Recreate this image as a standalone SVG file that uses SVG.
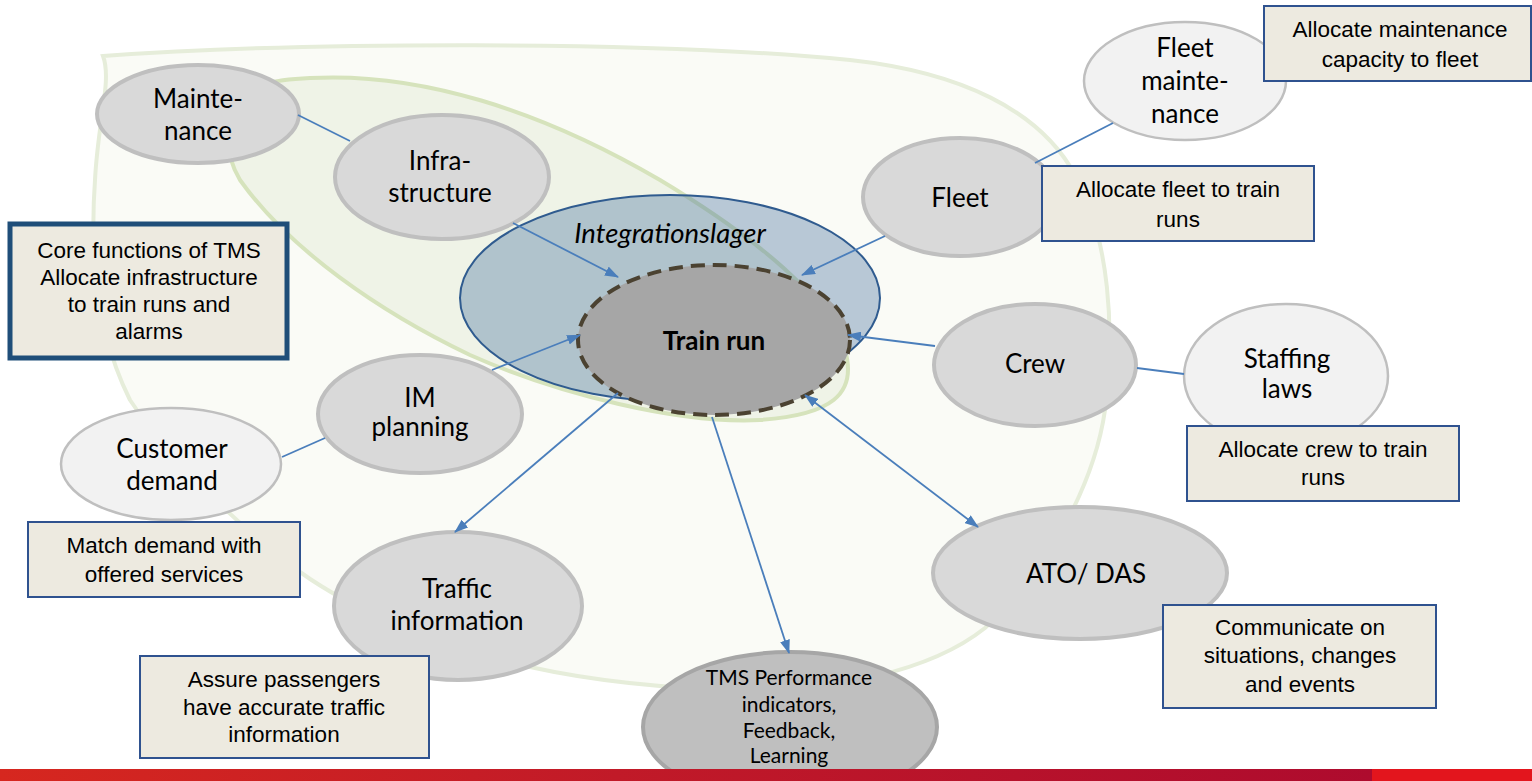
<svg xmlns="http://www.w3.org/2000/svg" width="1532" height="781" viewBox="0 0 1532 781">
<defs>
<style>
.node{font-family:Lato,"Noto Sans",sans-serif;font-size:26px;fill:#000;text-anchor:middle}
.small{font-size:21px}
.box{fill:#edeae0;stroke:#2f528f;stroke-width:2}
.bt{font-family:"Liberation Sans",Arial,sans-serif;font-size:22.5px;fill:#000;text-anchor:middle}
.core{font-size:22.5px}
.gray{fill:#d9d9d9;stroke:#bfbfbf;stroke-width:4}
.light{fill:#f2f2f2;stroke:#bfbfbf;stroke-width:2.5}
.con{stroke:#4a7ebb;stroke-width:1.8;fill:none}
.arr{marker-end:url(#ah)}
</style>
<marker id="ah" viewBox="0 0 14 10" refX="13" refY="5" markerWidth="14" markerHeight="10" markerUnits="userSpaceOnUse" orient="auto-start-reverse">
<path d="M0,0 L14,5 L0,10 z" fill="#4a7ebb"/>
</marker>
<linearGradient id="bar" x1="0" y1="0" x2="1" y2="0">
<stop offset="0" stop-color="#d6271f"/>
<stop offset="0.45" stop-color="#c11a28"/>
<stop offset="1" stop-color="#ae0b2e"/>
</linearGradient>
</defs>
<rect width="1532" height="781" fill="#ffffff"/>
<g id="regions">
<path d="M103,56 C300,42 650,40 850,60 C960,72 1040,110 1075,175 C1110,240 1115,330 1105,410 C1095,480 1050,570 985,628 C930,672 830,692 740,690 C650,688 580,678 530,667 C440,645 360,615 300,572 C240,528 170,460 130,400 C95,330 90,250 95,180 C98,120 112,80 103,56 Z" fill="#fafbf6" stroke="#e6edda" stroke-width="4"/>
<path d="M240,100 C250,85 270,80 310,78 C420,72 540,110 660,180 C760,240 830,300 845,350 C858,395 830,415 760,420 C680,424 560,395 470,355 C380,312 290,250 240,180 C222,150 225,115 240,100 Z" fill="#eff3e7" stroke="#d6e3bc" stroke-width="4"/>
</g>
<g id="integrationslager">
<ellipse cx="670" cy="298" rx="210" ry="103" fill="#3d6a9a" fill-opacity="0.35" stroke="#2f5b8f" stroke-width="2"/>
<text x="670" y="243" class="node" style="font-style:italic;font-size:27.5px">Integrationslager</text>
</g>
<g id="train-run">
<ellipse cx="714" cy="340" rx="136" ry="75" fill="#a6a6a6" stroke="#4b4231" stroke-width="4" stroke-dasharray="14 8"/>
<text x="714" y="350" class="node" style="font-size:26px;font-weight:bold">Train run</text>
</g>
<g id="maintenance">
<ellipse cx="198" cy="114" rx="101" ry="49" class="gray"/>
<text x="198" y="108" class="node">Mainte-</text>
<text x="198" y="140" class="node">nance</text>
</g>
<g id="infrastructure">
<ellipse cx="442" cy="177" rx="107" ry="62" class="gray"/>
<text x="440" y="170" class="node">Infra-</text>
<text x="440" y="202" class="node">structure</text>
</g>
<g id="fleet-maintenance">
<ellipse cx="1185" cy="81" rx="101" ry="59" class="light"/>
<text x="1185" y="57" class="node">Fleet</text>
<text x="1185" y="90" class="node">mainte-</text>
<text x="1185" y="123" class="node">nance</text>
</g>
<g id="fleet">
<ellipse cx="960" cy="197" rx="97" ry="59" class="gray"/>
<text x="960" y="207" class="node">Fleet</text>
</g>
<g id="crew">
<ellipse cx="1035" cy="365" rx="101" ry="61" class="gray"/>
<text x="1035" y="373" class="node">Crew</text>
</g>
<g id="staffing-laws">
<ellipse cx="1286" cy="376" rx="102" ry="72" class="light"/>
<text x="1287" y="368" class="node">Staffing</text>
<text x="1287" y="398" class="node">laws</text>
</g>
<g id="im-planning">
<ellipse cx="420" cy="414" rx="102" ry="59" class="gray"/>
<text x="420" y="407" class="node">IM</text>
<text x="420" y="436" class="node">planning</text>
</g>
<g id="customer-demand">
<ellipse cx="171" cy="464" rx="110" ry="56" class="light"/>
<text x="172" y="458" class="node">Customer</text>
<text x="172" y="490" class="node">demand</text>
</g>
<g id="traffic-information">
<ellipse cx="458" cy="606" rx="124" ry="74" class="gray"/>
<text x="457" y="598" class="node">Traffic</text>
<text x="457" y="630" class="node">information</text>
</g>
<g id="ato-das">
<ellipse cx="1080" cy="573" rx="147" ry="66" class="gray"/>
<text x="1086" y="583" class="node">ATO/ DAS</text>
</g>
<g id="tms-performance">
<ellipse cx="790" cy="727" rx="147" ry="75" fill="#bfbfbf" stroke="#a6a6a6" stroke-width="4"/>
<text x="789" y="685" class="node small">TMS Performance</text>
<text x="789" y="712" class="node small">indicators,</text>
<text x="789" y="738" class="node small">Feedback,</text>
<text x="789" y="763" class="node small">Learning</text>
</g>
<g id="connectors">
<line x1="298" y1="115" x2="350" y2="141" class="con"/>
<line x1="513" y1="223" x2="618" y2="277" class="con arr"/>
<line x1="885" y1="236" x2="802" y2="275" class="con arr"/>
<line x1="1113" y1="123" x2="1035" y2="163" class="con"/>
<line x1="935" y1="346" x2="848" y2="335" class="con arr"/>
<line x1="1137" y1="368" x2="1184" y2="374" class="con"/>
<line x1="492" y1="370" x2="580" y2="335" class="con arr"/>
<line x1="282" y1="457" x2="325" y2="438" class="con"/>
<line x1="618" y1="393" x2="455" y2="532" class="con arr"/>
<line x1="712" y1="417" x2="789" y2="653" class="con arr"/>
<line x1="805" y1="395" x2="978" y2="527" class="con arr" marker-start="url(#ah)"/>
</g>
<g id="box-maintenance-capacity">
<rect x="1264" y="6" width="267" height="75" class="box"/>
<text x="1400" y="37" class="bt">Allocate maintenance</text>
<text x="1400" y="67" class="bt">capacity to fleet</text>
</g>
<g id="box-fleet">
<rect x="1042" y="166" width="272" height="75" class="box"/>
<text x="1178" y="197" class="bt">Allocate fleet to train</text>
<text x="1178" y="227" class="bt">runs</text>
</g>
<g id="box-core">
<rect x="10" y="224" width="277" height="134" fill="#edeae0" stroke="#1f4e79" stroke-width="5"/>
<text x="149" y="258" class="bt core">Core functions of TMS</text>
<text x="149" y="285" class="bt core">Allocate infrastructure</text>
<text x="149" y="312" class="bt core">to train runs and</text>
<text x="149" y="339" class="bt core">alarms</text>
</g>
<g id="box-crew">
<rect x="1187" y="426" width="272" height="75" class="box"/>
<text x="1323" y="457" class="bt">Allocate crew to train</text>
<text x="1323" y="485" class="bt">runs</text>
</g>
<g id="box-demand">
<rect x="28" y="522" width="272" height="75" class="box"/>
<text x="164" y="553" class="bt">Match demand with</text>
<text x="164" y="582" class="bt">offered services</text>
</g>
<g id="box-passengers">
<rect x="140" y="656" width="289" height="102" class="box"/>
<text x="284" y="687" class="bt">Assure passengers</text>
<text x="284" y="715" class="bt">have accurate traffic</text>
<text x="284" y="742" class="bt">information</text>
</g>
<g id="box-communicate">
<rect x="1163" y="605" width="273" height="103" class="box"/>
<text x="1300" y="635" class="bt">Communicate on</text>
<text x="1300" y="663" class="bt">situations, changes</text>
<text x="1300" y="692" class="bt">and events</text>
</g>
<g id="footer">
<rect x="0" y="769" width="1372" height="12" fill="url(#bar)"/>
<rect x="1372" y="769" width="160" height="12" fill="#e3151d"/>
</g>
</svg>
